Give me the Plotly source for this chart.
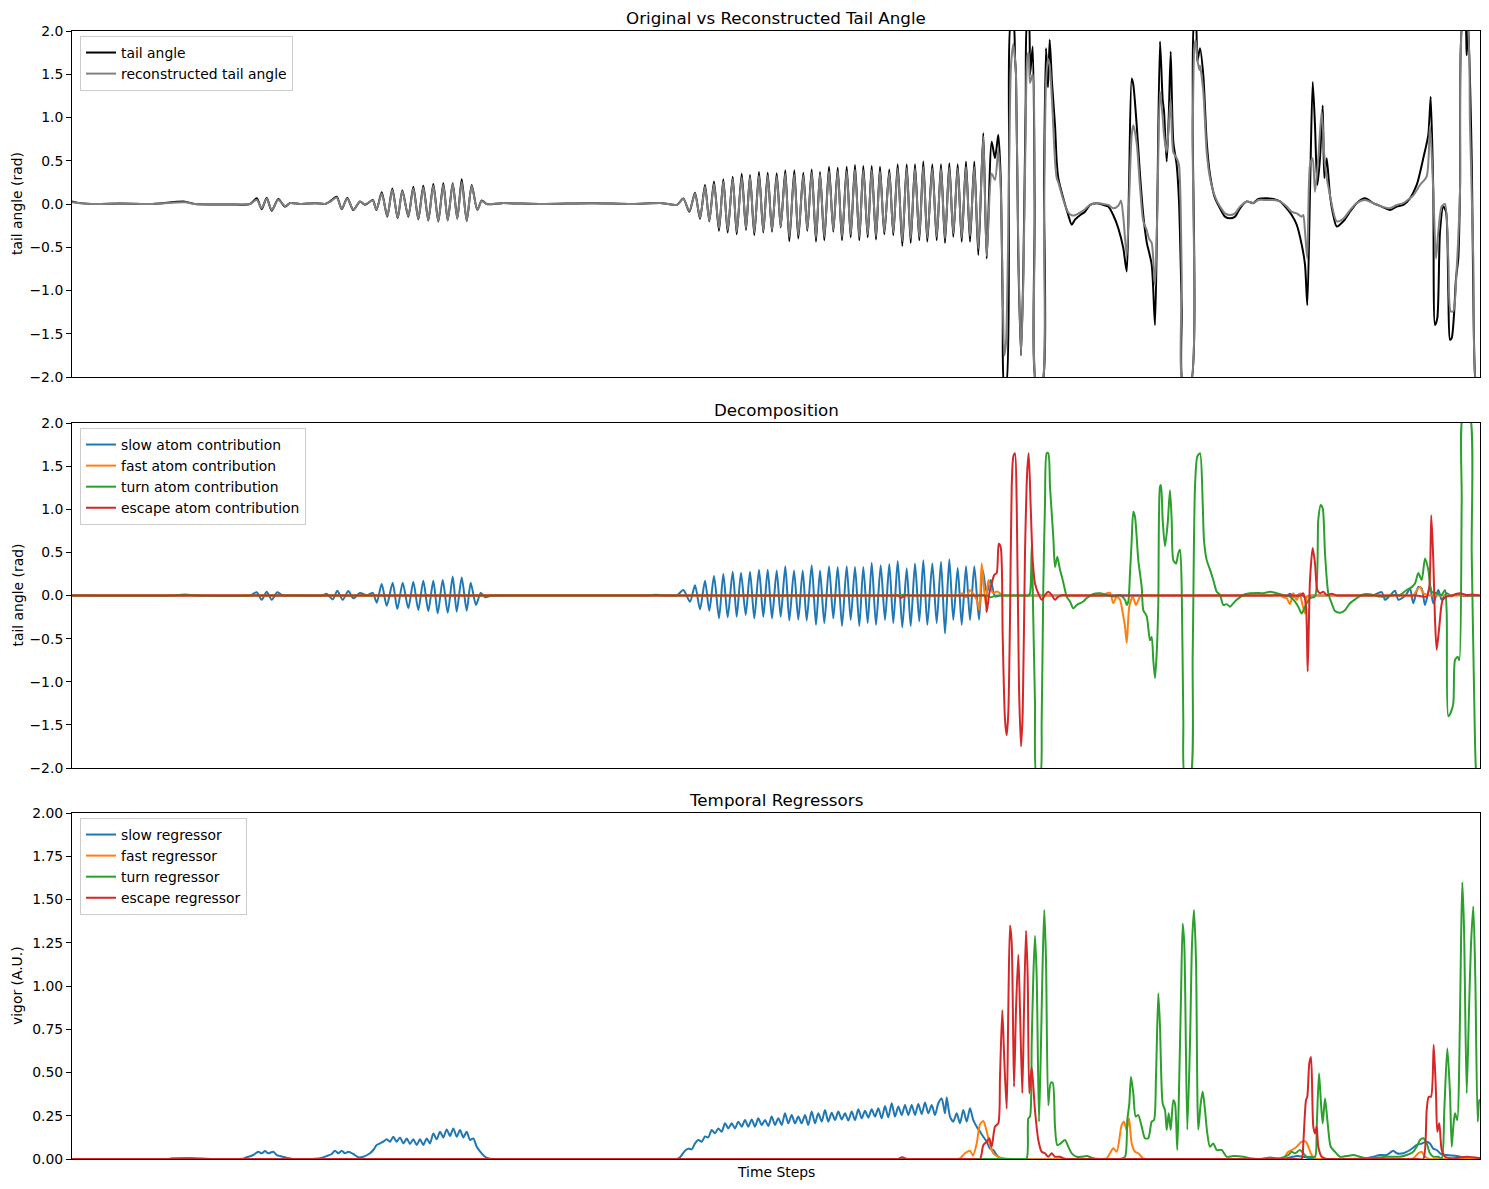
import plotly.graph_objects as go

# ---------------- Panel 1: original vs reconstructed tail angle ----------------
tail_t = [0, 8, 23, 48, 78, 113, 123, 158, 178,
          184.7, 189.7, 194.7, 199.7, 206.3, 213, 218, 228, 243, 253,
          258, 264.7, 269.7, 275.3, 281.3, 288, 293, 300.7, 304.5,
          309.7, 315.3, 320.3, 325.7, 330.3, 336.3, 341.3, 346.3, 351.3, 356.3, 361.3, 366.3,
          371.3, 375.7, 380.7, 385.3, 389.7, 394.7, 399.7, 405.3, 409.7, 414.7,
          430, 470, 520, 560, 590, 605,
          611.3, 617.3, 623, 628, 633, 637.3, 642, 647, 651.3, 655.7, 660.7, 664.7, 669.7, 674,
          678, 682.3, 687, 691.3, 695.7, 700, 704.7, 708.7, 713.3, 717.3, 722.3, 726.3, 731.3,
          735.3, 739.7, 744, 748, 752.3, 757, 761.3, 765.7, 770, 774.7, 778.7, 783, 787.3,
          791.3, 795.7, 799.7, 804, 808, 812.3, 817.3, 821.3, 825.7, 830.3, 834.7, 838.7, 843,
          847.3, 851.3, 855.3, 860.3, 864.7, 869, 873, 877.3, 881.3, 885.7, 889.7, 894, 898,
          902.3, 906.3,
          911.3, 914.7, 919.7, 923, 926.3, 928.7, 930.7, 932.3, 934, 937, 939, 941.3, 943, 944,
          946.3, 949, 951.3, 953.7, 955.3, 956.7, 958, 960.7, 962.7, 964.7, 969.7, 972, 974,
          976, 977.7, 980, 983, 984.7, 986.3, 991.3, 996.3, 999.7, 1003, 1008, 1013, 1018,
          1024.7, 1031.3, 1036.3, 1041.3, 1046.3, 1051.3, 1054.7, 1057, 1059.7, 1061.3, 1064.7,
          1068, 1071.3, 1074.7, 1079.7, 1083, 1085.3, 1088, 1090.7, 1092, 1094.7, 1096.7,
          1098.7, 1101.3, 1104.7, 1107, 1109.7, 1111.3, 1118, 1120.7, 1122.3, 1123.7, 1125.3,
          1128, 1131.3, 1134.7, 1138, 1143, 1148, 1153, 1158, 1163, 1168, 1174.7, 1181.3,
          1186.3, 1194.7, 1201.3, 1208, 1214.7, 1219.7, 1224.7, 1229.7, 1233, 1235.3, 1238,
          1240.7, 1243, 1245.3, 1248, 1250.7, 1252.3, 1254.7, 1258, 1261.3, 1264.7, 1271.3,
          1278, 1284.7, 1293, 1301.3, 1309.7, 1318, 1324.7, 1331.3, 1338, 1344.7, 1351.3,
          1356.3, 1358.7, 1361.3, 1363, 1365.3, 1368, 1371.3, 1374, 1376.3, 1378, 1379.7, 1382,
          1384, 1386.3, 1388, 1390.7, 1393, 1394.7, 1396.3, 1399.7, 1403, 1404.7, 1408]
tail_v = [0.03, 0.01, 0.0, 0.005, 0.0, 0.027, 0.0, -0.005, 0.0,
          0.066, -0.06, 0.073, -0.077, 0.058, -0.03, 0.01, 0.0, 0.01, 0.0,
          0.03, 0.085, -0.06, 0.073, -0.07, 0.03, -0.01, 0.046, -0.07,
          0.135, -0.146, 0.18, -0.166, 0.16, -0.146, 0.20, -0.177, 0.21, -0.19, 0.23, -0.204,
          0.24, -0.19, 0.24, -0.17, 0.285, -0.197, 0.22, -0.07, 0.04, 0.0,
          0.01, 0.0, 0.01, 0.0, 0.01, -0.01,
          0.065, -0.09, 0.13, -0.17, 0.22, -0.2, 0.26, -0.31, 0.285, -0.33, 0.316, -0.35, 0.35, -0.30,
          0.335, -0.36, 0.37, -0.33, 0.36, -0.32, 0.355, -0.27, 0.39, -0.43, 0.39, -0.40, 0.36,
          -0.31, 0.40, -0.435, 0.37, -0.42, 0.43, -0.32, 0.42, -0.42, 0.43, -0.385, 0.45, -0.42,
          0.44, -0.385, 0.44, -0.41, 0.43, -0.35, 0.40, -0.36, 0.46, -0.485, 0.46, -0.45, 0.46,
          -0.42, 0.49, -0.435, 0.46, -0.42, 0.46, -0.45, 0.47, -0.38, 0.46, -0.435, 0.49, -0.435,
          0.49, -0.59,
          0.82, -0.63, 0.72, 0.53, 0.80, 0.3, -1.2, -2.1, -2.1, 0.5, 2.1, 2.1, 1.68, 1.5,
          -0.6, -1.75, -0.8, 1.2, 2.1, 2.1, 1.49, 1.82, 0.0, -2.1, -2.1, 0.3, 1.8,
          1.35, 1.9, 1.4, 0.91, 0.49, 0.30, 0.066, -0.13, -0.24, -0.18, -0.13, -0.09, -0.01,
          0.01, -0.01, -0.03, -0.13, -0.28, -0.51, -0.78, 0.2, 1.45, 1.38, 0.91,
          0.34, -0.13, -0.44, -0.7, -1.40, 0.0, 1.88, 1.2, 1.07, 0.49, 0.99,
          1.76, 0.72, 0.45, 0.03, -1.2, -2.1, -2.1, 1.0, 2.1, 2.1, 1.65,
          1.8, 1.49, 0.72, 0.34, 0.066, -0.05, -0.146, -0.166, -0.146, -0.05, 0.03, 0.01,
          0.058, 0.066, 0.058, 0.03, -0.05, -0.127, -0.24, -0.47, -0.7, -1.17, 0.14,
          1.41, 0.91, 0.22, 0.53, 1.14, 0.30, 0.53, 0.10, -0.13, -0.26, -0.2,
          -0.09, 0.01, 0.066, 0.01, -0.03, -0.07, -0.03, -0.01, 0.066, 0.22, 0.53,
          0.80, 1.24, 0.14, -1.40, -1.32, -0.32, -0.03, -0.09, -1.01, -1.57, -1.55, -1.28,
          -0.86, -0.63, 0.14, 2.1, 2.1, 1.72, 2.1, 0.53, -1.98, -2.1, -2.1]

recon_t = [0, 8, 23, 48, 78, 113, 123, 158, 178,
           184.7, 189.7, 194.7, 199.7, 206.3, 213, 218, 228, 243, 253,
           258, 264.7, 269.7, 275.3, 281.3, 288, 293, 300.7, 304.5,
           309.7, 315.3, 320.3, 325.7, 330.3, 336.3, 341.3, 346.3, 351.3, 356.3, 361.3, 366.3,
           371.3, 375.7, 380.7, 385.3, 389.7, 394.7, 399.7, 405.3, 409.7, 414.7,
           430, 470, 520, 560, 590, 605,
           611.3, 617.3, 623, 628, 633, 637.3, 642, 647, 651.3, 655.7, 660.7, 664.7, 669.7, 674,
           678, 682.3, 687, 691.3, 695.7, 700, 704.7, 708.7, 713.3, 717.3, 722.3, 726.3, 731.3,
           735.3, 739.7, 744, 748, 752.3, 757, 761.3, 765.7, 770, 774.7, 778.7, 783, 787.3,
           791.3, 795.7, 799.7, 804, 808, 812.3, 817.3, 821.3, 825.7, 830.3, 834.7, 838.7, 843,
           847.3, 851.3, 855.3, 860.3, 864.7, 869, 873, 877.3, 881.3, 885.7, 889.7, 894, 898,
           902.3, 906.3,
           911.3, 914.7, 919.7, 923, 926.3, 928.7, 930.7, 932.3, 934, 937, 939, 941.3, 943, 944,
           946.3, 949, 951.3, 953.7, 955.3, 956.7, 958, 960.7, 962.7, 964.7, 969.7, 972, 974,
           976, 977.7, 980, 983, 984.7, 986.3, 991.3, 996.3, 999.7, 1003, 1008, 1013, 1018,
           1024.7, 1031.3, 1036.3, 1041.3, 1046.3, 1049, 1051.3, 1054.7, 1057, 1059.7, 1061.3,
           1064.7, 1068, 1071.3, 1074.7, 1077, 1079.7, 1083, 1085.3, 1088, 1090.7, 1092, 1094.7,
           1096.7, 1098.7, 1101.3, 1104.7, 1107, 1109.7, 1111.3, 1118, 1120.7, 1122.3, 1123.7,
           1125.3, 1127.3,
           1128, 1131.3, 1134.7, 1138, 1143, 1148, 1153, 1158, 1163, 1168, 1174.7, 1181.3,
           1186.3, 1194.7, 1201.3, 1208, 1214.7, 1219.7, 1224.7, 1229.7, 1231.3, 1233, 1235.3,
           1238, 1240.7, 1243, 1246.3, 1249.7, 1253, 1258, 1264.7, 1271.3, 1278, 1284.7, 1293,
           1301.3, 1309.7, 1318, 1324.7, 1331.3, 1338, 1341.3, 1348, 1354.7, 1358, 1361.3,
           1364, 1366.3, 1369.7, 1373, 1376.3, 1378.7, 1381.3, 1384.7, 1388, 1391.3, 1394.7,
           1398, 1401.3, 1404.7, 1408]
recon_v = [0.02, 0.01, 0.0, 0.005, 0.0, 0.02, 0.0, -0.005, 0.0,
           0.05, -0.05, 0.065, -0.07, 0.05, -0.025, 0.01, 0.0, 0.01, 0.0,
           0.025, 0.075, -0.055, 0.065, -0.065, 0.025, -0.005, 0.04, -0.065,
           0.12, -0.14, 0.165, -0.16, 0.15, -0.14, 0.18, -0.17, 0.19, -0.185, 0.21, -0.2,
           0.22, -0.19, 0.23, -0.17, 0.25, -0.19, 0.21, -0.07, 0.035, 0.0,
           0.01, 0.0, 0.01, 0.0, 0.01, -0.01,
           0.06, -0.08, 0.12, -0.16, 0.2, -0.19, 0.23, -0.28, 0.26, -0.30, 0.29, -0.32, 0.31, -0.28,
           0.31, -0.33, 0.33, -0.31, 0.33, -0.30, 0.32, -0.26, 0.35, -0.38, 0.34, -0.36, 0.33,
           -0.29, 0.36, -0.39, 0.34, -0.38, 0.38, -0.30, 0.38, -0.38, 0.38, -0.35, 0.40, -0.38,
           0.39, -0.35, 0.39, -0.37, 0.38, -0.32, 0.36, -0.33, 0.41, -0.43, 0.41, -0.40, 0.41,
           -0.38, 0.43, -0.39, 0.41, -0.38, 0.41, -0.40, 0.42, -0.34, 0.41, -0.39, 0.43, -0.37,
           0.43, -0.52,
           0.78, -0.6, 0.35, 0.28, 0.62, 0.2, -1.0, -1.75, -1.6, 0.3, 1.6, 1.85, 1.68, 1.5,
           -0.5, -1.75, -0.9, 0.9, 1.7, 1.75, 1.4, 1.5, -0.2, -2.1, -2.1, -0.2, 1.4,
           1.68, 1.6, 1.2, 0.5, 0.3, 0.25, 0.05, -0.1, -0.13, -0.13, -0.1, -0.06, -0.01,
           0.01, 0.0, -0.01, -0.05, -0.02, 0.04, -0.15, -0.6, 0.0, 0.8, 0.91,
           0.7, 0.2, -0.2, -0.3, -0.4, -0.45, -0.94, -0.1, 1.30, 1.0, 0.8, 0.6,
           0.9, 1.21, 0.6, 0.53, 0.45, -0.8, -2.1, -2.1, 0.8, 1.8, 1.9,
           1.68, 1.55,
           1.6, 1.3, 0.6, 0.3, 0.085, -0.03, -0.108, -0.127, -0.108, -0.03, 0.03, 0.01,
           0.046, 0.046, 0.046, 0.03, -0.03, -0.09, -0.108, -0.146, -0.127, -0.32, -0.63,
           0.45, 0.53, 0.14, 0.53, 1.07, 0.45, 0.1, -0.2, -0.17, -0.07, 0.01, 0.046,
           0.01, -0.03, -0.05, -0.01, 0.01, 0.066, 0.1, 0.22, 0.32, 0.91, 0.14,
           -0.63, -0.32, -0.03, 0.0, -0.63, -1.24, -1.24, -0.74, 0.14, 2.1, 2.1,
           0.91, -0.63, -2.1, -2.1]

# ---------------- Panel 2: decomposition ----------------
slow_c_t = [0, 100, 172, 178, 184.7, 189.7, 194.7, 199.7, 205.3, 210.7, 215, 250,
            254.7, 260.7, 265.3, 270.7, 276.3, 281.3, 288, 294.7, 300.7, 304.7,
            309.7, 314.7, 320.7, 325.3, 330.7, 336.3, 341.3, 346.3, 351.3, 356.3, 361.3, 365.7,
            370.7, 375.7, 380.7, 384.7, 389.7, 394.7, 398.7, 404, 408.7, 413, 420, 430, 520, 598, 605,
            611.3, 618, 623, 628, 633, 637.3, 642, 647, 651.3, 655.7, 660.7, 664.7, 669, 673.7,
            678, 682.3, 687, 691.3, 695.7, 700, 704.7, 708.7, 713.3, 717.3, 722, 726.3, 730.7,
            734.7, 739.7, 744, 748, 752.3, 757, 761.3, 765.7, 770, 774.7, 778.7, 783, 787.3,
            791.3, 795.7, 799.7, 804, 808.7, 813, 817.3, 821.3, 825.7, 830.3, 834.7, 838.7, 843,
            847.3, 851.3, 855.3, 860.3, 864.7, 869, 873, 877.3, 881.3, 885.7, 889.7, 894, 898,
            902.3, 907, 910.7, 914.7, 918.7, 923, 928, 940, 1100, 1195, 1200,
            1208, 1213, 1218, 1223, 1228, 1233, 1238, 1245, 1295, 1301, 1309.7, 1313, 1318, 1323, 1326.3,
            1331.3, 1334.7, 1338, 1341.3, 1346.3, 1349.7, 1353, 1358, 1361.3, 1366.3, 1369.7,
            1374.7, 1379.7, 1384.7, 1391.3, 1408]
slow_c_v = [0.0, 0.0, 0.0, 0.0, 0.037, -0.05, 0.044, -0.05, 0.037, 0.0, 0.0, 0.0,
            0.02, -0.045, 0.056, -0.05, 0.052, -0.033, 0.03, 0.0, 0.03, -0.083,
            0.133, -0.12, 0.149, -0.157, 0.149, -0.149, 0.16, -0.168, 0.172, -0.18, 0.172, -0.207,
            0.18, -0.2, 0.22, -0.187, 0.21, -0.176, 0.149, -0.11, 0.03, -0.02, 0.0, 0.0, 0.0, 0.0, 0.0,
            0.064, -0.072, 0.12, -0.16, 0.17, -0.176, 0.226, -0.265, 0.25, -0.253, 0.276, -0.246, 0.265, -0.226,
            0.276, -0.265, 0.30, -0.246, 0.30, -0.265, 0.29, -0.246, 0.34, -0.29, 0.29, -0.28, 0.29,
            -0.29, 0.35, -0.34, 0.29, -0.32, 0.34, -0.265, 0.33, -0.354, 0.34, -0.284, 0.33, -0.354,
            0.33, -0.32, 0.38, -0.34, 0.35, -0.284, 0.365, -0.32, 0.40, -0.37, 0.315, -0.354, 0.37,
            -0.30, 0.41, -0.34, 0.37, -0.32, 0.39, -0.44, 0.42, -0.284, 0.32, -0.34, 0.34, -0.284,
            0.34, -0.28, 0.30, 0.03, 0.18, -0.01, 0.0, 0.0, 0.0, 0.0, 0.0,
            0.01, -0.02, 0.02, -0.02, 0.02, -0.02, 0.0, 0.0, 0.0, 0.0, 0.04, -0.05, 0.0, 0.056, -0.05,
            -0.02, 0.02, 0.083, -0.09, 0.1, 0.08, -0.11, 0.11, -0.09, 0.064, -0.05,
            0.025, -0.01, 0.02, -0.005, 0.0]

fast_c_t = [0, 400, 800, 880, 885, 891.3, 894, 898, 904.7, 907.3, 909.7, 913.7, 916.3, 918.7, 921.3, 924.7,
            928, 931.3, 940, 1025, 1030, 1034.7, 1038, 1041.3, 1044.7, 1048, 1050.7, 1053, 1054.7, 1057.3,
            1060.7, 1064, 1068, 1071.3, 1075, 1082, 1200, 1205, 1208, 1211.3, 1214.7, 1218, 1221.3, 1224.7,
            1228, 1229.7, 1233, 1234.7, 1238, 1245, 1250, 1335, 1341.3, 1344.7, 1348, 1351.3, 1354.7,
            1358, 1365, 1408]
fast_c_v = [0.0, 0.0, 0.0, 0.0, 0.0, 0.025, -0.02, 0.06, -0.05, -0.17, 0.37, -0.11, 0.18, 0.08, 0.025, 0.045,
            0.025, 0.0, 0.0, 0.0, 0.0, 0.025, 0.03, -0.09, -0.015, -0.05, -0.2, -0.36, -0.55, -0.13,
            -0.013, -0.11, -0.013, 0.005, 0.0, 0.0, 0.0, 0.0, 0.0, -0.02, -0.03, -0.1, 0.025, -0.05,
            0.025, -0.07, -0.21, -0.013, 0.0, 0.0, 0.0, 0.0, 0.0, 0.06, 0.1, 0.025, 0.01,
            0.0, 0.0, 0.0]

turn_c_t = [0, 100, 113, 125, 165, 180, 190, 400, 570, 575, 583, 591, 600, 700, 820, 828, 832, 836,
            845, 900, 910, 915, 918, 924.7, 935, 950, 956.3,
            958, 959.7, 961.3, 963, 964.7, 968, 969.7, 971.3, 973, 974.7, 976.3, 978, 981.3,
            983, 985.3, 988, 990.7, 993, 994.7, 998, 1001.3, 1004.7, 1008, 1011.3, 1014.7, 1018,
            1021.3, 1028, 1034.7, 1041.3, 1048, 1053, 1054.7, 1056.3, 1058, 1059.7, 1061.3,
            1063, 1066.3, 1069.7, 1071.3, 1074.7, 1078, 1079.7, 1081.3, 1083, 1084.7, 1086.3,
            1088, 1089, 1090.7, 1093, 1095.7, 1098, 1099.7, 1101.3, 1104, 1106.3, 1108, 1109.7,
            1111.3, 1113, 1118, 1120.7, 1123, 1125.3, 1128, 1130.7, 1132, 1134.7, 1138, 1141.3,
            1144.7, 1148, 1151.3, 1154.7, 1158, 1161.3, 1164.7, 1171.3, 1178, 1184.7, 1191.3,
            1198, 1204.7, 1211.3, 1218, 1223, 1226.3, 1229.7, 1233, 1238, 1243, 1246.3, 1248.7,
            1250.7, 1253, 1256.3, 1259.7, 1263, 1268, 1273, 1278, 1284.7, 1289.7, 1294.7,
            1301.3, 1308, 1314.7, 1321.3, 1328, 1334.7, 1338, 1343, 1346.3, 1349.7, 1353,
            1356.3, 1359.7, 1364.7, 1369.7, 1373, 1374.7, 1376.3, 1378.7, 1381.3, 1383, 1385.7,
            1387.3, 1389.7, 1391.3, 1397.3, 1399.7, 1402, 1404, 1405.3, 1408]
turn_c_v = [0.0, 0.0, 0.012, 0.0, -0.005, 0.0, 0.0, 0.0, 0.0, 0.0, 0.01, 0.0, 0.0, 0.0, 0.0, 0.0, 0.01, 0.0,
            0.0, 0.0, 0.0, 0.0, -0.02, 0.0, 0.0, 0.0, 0.0,
            0.025, 0.57, -0.28, -1.25, -2.1, -2.1, -1.44, 0.10, 1.07, 1.65, 1.65, 1.26, 0.68,
            0.33, 0.45, 0.3, 0.18, 0.064, -0.013, -0.07, -0.15, -0.11, -0.09, -0.07, -0.03, -0.006,
            0.017, 0.025, 0.006, -0.013, 0.006, -0.052, -0.11, -0.07, 0.26, 0.64, 0.97,
            0.91, 0.41, 0.10, -0.17, -0.24, -0.52, -0.48, -0.75, -0.96, -0.67, -0.09,
            1.26, 1.28, 0.87, 0.57, 0.84, 1.22, 0.87, 0.41, 0.37, 0.49, 0.53, 0.1,
            -1.44, -2.1, -2.1, -0.67, 1.26, 1.61, 1.65, 1.07, 0.64, 0.41, 0.3, 0.18,
            0.044, 0.006, -0.11, -0.1, -0.13, -0.09, -0.05, 0.006, 0.025, 0.03, 0.025,
            0.044, 0.025, 0.006, -0.013, -0.07, -0.13, -0.21, -0.13, -0.03, -0.01, 0.88, 1.05,
            1.01, 0.49, 0.025, -0.09, -0.18, -0.2, -0.17, -0.09, -0.03, 0.006, 0.017,
            0.006, -0.013, -0.013, 0.006, 0.006, 0.064, 0.083, 0.14, 0.26, 0.18, 0.43,
            0.3, 0.044, 0.025, 0.006, 0.064, -0.2, -1.40, -1.36, -1.25, -0.75, -0.71,
            -0.75, 1.07, 2.1, 2.1, 0.49, -1.06, -2.02, -2.1, -2.1]

esc_c_t = [0, 400, 820, 826, 829, 833, 840, 900, 908, 913, 914.7, 917.3, 919.7, 922.3, 924.7, 926.7,
           928.7, 930.7, 933,
           934.7, 936.3, 938, 939.7, 941.3, 943, 944.7, 947, 949, 950.7, 953, 955.3, 956.7,
           958.7, 960.7, 963, 966.3, 969.7, 973, 976.3, 979.7, 983, 986.3, 991.3, 994.7,
           1000, 1100, 1222, 1228,
           1231.3, 1234, 1235.7, 1238, 1240.7, 1243, 1245.3, 1248, 1251.3, 1254.7, 1259.7,
           1264.7, 1270, 1340, 1344.7, 1354.7, 1357.3, 1359.3, 1361.3, 1363, 1364.7, 1367.3, 1370.7,
           1374.7, 1381.3, 1388, 1394.7, 1401.3, 1408]
esc_c_v = [0.0, 0.0, 0.0, 0.0, -0.025, 0.0, 0.0, 0.0, 0.0, 0.0, -0.19, 0.025, 0.14, 0.24, 0.26, 0.60,
           0.56, -0.48, -1.44,
           -1.62, -1.36, -0.28, 1.26, 1.61, 1.65, 1.07, -1.06, -1.75, -1.36, 0.49, 1.46, 1.65,
           1.03, 0.41, 0.14, 0.025, -0.05, 0.006, 0.044, 0.006, -0.05, -0.013, 0.006, 0.0,
           0.0, 0.0, 0.0, 0.0,
           0.025, -0.13, -0.88, 0.18, 0.55, 0.37, 0.064, 0.025, 0.044, 0.006, 0.02,
           0.0, 0.0, 0.0, 0.0, -0.013, 0.1, 0.93, 0.41, -0.28, -0.63, -0.36, -0.05,
           -0.013, 0.006, 0.025, 0.006, 0.01, 0.0]

# ---------------- Panel 3: temporal regressors ----------------
slow_r_t = [0, 80, 165, 169.7, 174.7, 181.3, 186.3, 189.7, 193, 196.3, 201.3, 204.7, 208, 214.7, 221.3,
            240, 248, 254.7, 259.7, 263, 266.3, 269.7, 273, 276.3, 281.3, 286.3, 291.3, 298, 301.3,
            304.7, 308, 311.3, 314.7, 318, 321.3, 324.7, 328, 331.3, 334.7, 338, 341.3, 344.7,
            348, 351.3, 354.7, 358, 361.3, 364.7, 368, 371.3, 374.7, 378, 381.3, 384.7, 388,
            391.3, 394.7, 398, 401.3, 404.7, 408, 413, 418, 421.3, 430, 520, 598, 604.7,
            608, 613, 616.3, 619.7, 623, 626.3, 629.7, 633, 636.3, 639.7, 643, 646.3, 649.7, 653,
            656.3, 659.7, 663, 666.3, 669.7, 673, 676.3, 679.7, 683, 686.3, 689.7, 693, 696.3,
            699.7, 703, 706.3, 709.7, 713, 716.3, 719.7, 723, 726.3, 729.7, 733, 736.3, 739.7,
            743, 746.3, 749.7, 753, 756.3, 759.7, 763, 766.3, 769.7, 773, 776.3, 779.7, 783,
            786.3, 789.7, 793, 796.3, 799.7, 803, 806.3, 809.7, 813, 816.3, 819.7, 823, 826.3,
            829.7, 833, 836.3, 839.7, 843, 846.3, 849.7, 853, 856.3, 859.7, 863, 866.3, 869.7,
            873, 874.7, 878, 881.3, 884.7, 888, 891.3, 894.7, 898, 901.3, 904.7, 908, 911.3,
            914.7, 918, 921.3, 924.7, 928, 935, 1100, 1205, 1210, 1214.7, 1224.7, 1231.3, 1238,
            1244.7, 1250, 1295, 1301.3,
            1308, 1314.7, 1321.3, 1324.7, 1331.3, 1338, 1344.7, 1349.7, 1354.7, 1358, 1361.3,
            1364.7, 1368, 1374.7, 1384.7, 1394.7, 1408]
slow_r_v = [0.0, 0.0, 0.0, 0.0, 0.01, 0.023, 0.042, 0.033, 0.046, 0.033, 0.042, 0.023, 0.017, 0.008, 0.0,
            0.0, 0.004, 0.017, 0.029, 0.048, 0.033, 0.048, 0.033, 0.042, 0.029, 0.01, 0.013, 0.033, 0.052,
            0.081, 0.09, 0.1, 0.114, 0.10, 0.129, 0.10, 0.125, 0.09, 0.119, 0.087, 0.114, 0.081,
            0.114, 0.081, 0.119, 0.09, 0.148, 0.114, 0.158, 0.125, 0.171, 0.133, 0.177, 0.129, 0.168,
            0.125, 0.158, 0.110, 0.119, 0.071, 0.044, 0.013, 0.002, 0.0, 0.0, 0.0, 0.0, 0.0,
            0.01, 0.048, 0.06, 0.056, 0.09, 0.11, 0.1, 0.13, 0.125, 0.168, 0.148, 0.177, 0.158, 0.206,
            0.177, 0.206, 0.177, 0.216, 0.187, 0.225, 0.187, 0.229, 0.187, 0.235, 0.197, 0.225, 0.191,
            0.245, 0.197, 0.235, 0.197, 0.264, 0.206, 0.254, 0.206, 0.245, 0.206, 0.254, 0.197, 0.274,
            0.206, 0.264, 0.216, 0.283, 0.216, 0.268, 0.225, 0.274, 0.229, 0.264, 0.222, 0.274, 0.225,
            0.287, 0.235, 0.279, 0.239, 0.287, 0.245, 0.293, 0.235, 0.306, 0.241, 0.322, 0.245, 0.303,
            0.254, 0.312, 0.254, 0.312, 0.254, 0.318, 0.260, 0.326, 0.264, 0.312, 0.254, 0.322, 0.35,
            0.264, 0.356, 0.245, 0.216, 0.264, 0.206, 0.283, 0.216, 0.293, 0.225, 0.187, 0.158, 0.129,
            0.100, 0.06, 0.052, 0.023, 0.004, 0.0, 0.0, 0.0, 0.0, 0.004, 0.017, 0.013, 0.004,
            0.0, 0.0, 0.005, 0.013,
            0.023, 0.023, 0.048, 0.033, 0.033, 0.052, 0.081, 0.090, 0.100, 0.09, 0.06,
            0.052, 0.033, 0.023, 0.017, 0.004, 0.004]

fast_r_t = [0, 400, 880, 885, 888, 893, 898, 901, 904.7, 908, 911.3, 914.7, 918, 921.3, 926.3, 931.3, 940,
            1025, 1031, 1034.7, 1038, 1041.3, 1044.7, 1049.7, 1052, 1054.7, 1057, 1059.7, 1063, 1066.3,
            1071.3, 1080, 1090, 1200, 1208, 1211.3, 1216.3, 1219.7, 1224.7, 1229.7, 1234, 1236.3, 1239.7,
            1243, 1250, 1255, 1333, 1338, 1341.3, 1346.3, 1349.7, 1353, 1358, 1365, 1408]
fast_r_v = [0.0, 0.0, 0.0, 0.0, 0.004, 0.033, 0.048, 0.02, 0.09, 0.2, 0.22, 0.16, 0.08, 0.033, 0.012, 0.004, 0.0,
            0.0, 0.0, 0.004, 0.033, 0.062, 0.042, 0.197, 0.216, 0.168, 0.235, 0.09, 0.042, 0.033,
            0.004, 0.0, 0.0, 0.0, 0.0, 0.004, 0.042, 0.052, 0.071, 0.10, 0.10, 0.071, 0.023,
            0.004, 0.0, 0.0, 0.0, 0.0, 0.004, 0.033, 0.042, 0.013, 0.0, 0.0, 0.0]

turn_r_t = [0, 95, 100, 120, 140, 150, 500, 945, 950, 954.7, 956.3, 958, 959.7, 961.3, 963, 964.7, 967, 969,
            970.7, 972.3, 974, 976.3, 978.7, 980.7, 983, 985.3, 988.7, 993, 996.3, 999.7, 1004.7,
            1009.7, 1014.7, 1021.3, 1028, 1048, 1053, 1055.3, 1057.3, 1059, 1061.3, 1063.7, 1066.3,
            1069.7, 1073, 1076.3, 1079.7, 1082, 1084, 1086.3, 1088, 1090.7, 1093, 1094.7, 1096.7,
            1098.7, 1101.3, 1103, 1105.3, 1107.3, 1109, 1110.7, 1112.3, 1115.3, 1118, 1120, 1122,
            1124, 1126.3, 1128.7, 1130.7, 1133, 1135.3, 1138, 1141.3, 1144.7, 1149.7, 1154.7,
            1161.3, 1171.3, 1178, 1188, 1198, 1208, 1216.3, 1219.7, 1223, 1228, 1231.3, 1234.7,
            1238, 1243, 1244.7, 1247, 1249, 1250.7, 1253, 1255.7, 1258.7, 1263, 1268, 1274.7,
            1281.3, 1288, 1294.7, 1314.7, 1328, 1334.7, 1341.3, 1344.7, 1348, 1351.3, 1354.7, 1358,
            1361.3, 1366.3, 1369.7, 1372.3, 1375.3, 1378, 1379.7, 1381.3, 1383, 1385.3, 1387.3,
            1389, 1390.3, 1392, 1394.7, 1397, 1399, 1401.3, 1403.3, 1405.7, 1407.3, 1408]
turn_r_v = [0.0, 0.0, 0.004, 0.006, 0.0, 0.0, 0.0, 0.0, 0.0, 0.004, 0.235, 0.245, 0.67, 1.05, 1.29, 1.05, 0.216, 0.67,
            1.15, 1.44, 1.15, 0.31, 0.44, 0.44, 0.187, 0.08, 0.09, 0.11, 0.071, 0.033, 0.013,
            0.013, 0.017, 0.004, 0.0, 0.0, 0.013, 0.225, 0.32, 0.476, 0.379, 0.245, 0.254,
            0.187, 0.12, 0.12, 0.216, 0.225, 0.476, 0.957, 0.764, 0.32, 0.283, 0.168, 0.264,
            0.168, 0.34, 0.32, 0.052, 0.476, 0.94, 1.36, 1.24, 0.17, 0.67, 1.24, 1.44,
            1.15, 0.17, 0.32, 0.39, 0.283, 0.148, 0.071, 0.09, 0.052, 0.052, 0.013,
            0.017, 0.013, 0.004, 0.0, 0.008, 0.004, 0.023, 0.042, 0.033, 0.052, 0.033, 0.013,
            0.013, 0.013, 0.187, 0.495, 0.32, 0.206, 0.35, 0.206, 0.071, 0.042, 0.013, 0.017,
            0.023, 0.013, 0.004, 0.013, 0.013, 0.023, 0.042, 0.071, 0.11, 0.12, 0.09, 0.033,
            0.013, 0.013, 0.004, 0.283, 0.64, 0.38, 0.071, 0.187, 0.264, 0.225, 0.57,
            1.24, 1.60, 1.34, 0.38, 0.86, 1.24, 1.46, 1.05, 0.216, 0.34, 0.34]

esc_r_t = [0, 400, 820, 826, 830, 835, 840, 900, 908, 911.3, 914.7, 917.3, 919.7, 923, 926.3, 928, 930.3, 932.3,
           934.7, 936.3, 938, 939.7, 942, 944, 946.3, 948, 950.3, 952, 954, 955.7, 957.3, 959.7,
           963, 966.3, 969.7, 973, 976.3, 979.7, 983, 988, 991.3, 994.7, 1000, 1100, 1224, 1229.7,
           1231.3, 1234, 1235.3, 1237.3, 1239, 1241.3, 1243, 1244.7, 1246.3, 1249.7, 1254.7, 1260, 1346,
           1351.3, 1354.7, 1356.7, 1359, 1361.7, 1364, 1365.3, 1367.3, 1369.7, 1373, 1381.3, 1394.7, 1408]
esc_r_v = [0.0, 0.0, 0.0, 0.0, 0.01, 0.0, 0.0, 0.0, 0.0, 0.08, 0.1, 0.12, 0.071, 0.187, 0.206, 0.476, 0.86, 0.57,
           0.29, 0.86, 1.35, 1.25, 0.418, 0.86, 1.18, 0.86, 0.38, 0.86, 1.32, 1.05, 0.38, 0.53,
           0.28, 0.11, 0.042, 0.033, 0.013, 0.033, 0.013, 0.013, 0.004, 0.0, 0.0, 0.0, 0.0, 0.0,
           0.09, 0.34, 0.36, 0.553, 0.59, 0.187, 0.148, 0.187, 0.071, 0.013, 0.0, 0.0, 0.0,
           0.0, 0.283, 0.36, 0.36, 0.66, 0.38, 0.158, 0.206, 0.052, 0.013, 0.004, 0.013, 0.004]

BLUE, ORANGE, GREEN, RED = "#1f77b4", "#ff7f0e", "#2ca02c", "#d62728"
FONT = "DejaVu Sans"

fig = go.Figure()


def add(t, v, name, color, ax, leg):
    assert len(t) == len(v), (name, len(t), len(v))
    fig.add_trace(go.Scatter(
        x=t, y=v, mode="lines", name=name,
        line=dict(color=color, width=2, shape="spline", smoothing=0.7),
        xaxis="x" + ax, yaxis="y" + ax, legend=leg))


add(tail_t, tail_v, "tail angle", "#000000", "", "legend")
add(recon_t, recon_v, "reconstructed tail angle", "#808080", "", "legend")
add(slow_c_t, slow_c_v, "slow atom contribution", BLUE, "2", "legend2")
add(fast_c_t, fast_c_v, "fast atom contribution", ORANGE, "2", "legend2")
add(turn_c_t, turn_c_v, "turn atom contribution", GREEN, "2", "legend2")
add(esc_c_t, esc_c_v, "escape atom contribution", RED, "2", "legend2")
add(slow_r_t, slow_r_v, "slow regressor", BLUE, "3", "legend3")
add(fast_r_t, fast_r_v, "fast regressor", ORANGE, "3", "legend3")
add(turn_r_t, turn_r_v, "turn regressor", GREEN, "3", "legend3")
add(esc_r_t, esc_r_v, "escape regressor", RED, "3", "legend3")

# page has an 8px body margin around the plot div; compensate so the
# plot area sits at the same page coordinates as the reference.
OFF = 8
W, H = 1489 - 2 * OFF, 1189 - 2 * OFF
ML, MR, MT, MB = 72 - OFF, 1, 31 - OFF, 22
PW = W - ML - MR           # 1408
PH = H - MT - MB           # 1128
PBOT = OFF + H - MB        # page y of plot bottom (1159)


def py2paper(py):
    return (PBOT - py) / PH


def px2paper(px):
    return (px - 72) / PW


d1 = [py2paper(377), 1.0]
d2 = [py2paper(768), py2paper(423)]
d3 = [0.0, py2paper(813)]

xcommon = dict(range=[0, 1408], showticklabels=False, ticks="", showgrid=False,
               zeroline=False, showline=True, linecolor="black", linewidth=1, mirror=True)
ycommon = dict(showgrid=False, zeroline=False, showline=True, linecolor="black",
               linewidth=1, mirror=True, ticks="outside", ticklen=5, tickwidth=1,
               tickcolor="black", tickfont=dict(family=FONT, size=13.9, color="black"))

legcommon = dict(bgcolor="rgba(255,255,255,0.8)", bordercolor="#cccccc", borderwidth=1,
                 font=dict(family=FONT, size=13.9, color="black"), xanchor="left",
                 yanchor="top", x=px2paper(80), tracegroupgap=0)

fig.update_layout(
    width=W, height=H, template="none",
    margin=dict(l=ML, r=MR, t=MT, b=MB, autoexpand=False),
    paper_bgcolor="white", plot_bgcolor="white",
    font=dict(family=FONT, size=13.9, color="black"),
    xaxis=dict(domain=[0, 1], anchor="y", **xcommon),
    xaxis2=dict(domain=[0, 1], anchor="y2", **xcommon),
    xaxis3=dict(domain=[0, 1], anchor="y3", **xcommon),
    yaxis=dict(domain=d1, anchor="x", range=[-2, 2], dtick=0.5, tick0=0, tickformat=".1f", **ycommon),
    yaxis2=dict(domain=d2, anchor="x2", range=[-2, 2], dtick=0.5, tick0=0, tickformat=".1f", **ycommon),
    yaxis3=dict(domain=d3, anchor="x3", range=[0, 2], dtick=0.25, tick0=0, tickformat=".2f", **ycommon),
    legend=dict(y=py2paper(36), **legcommon),
    legend2=dict(y=py2paper(428), **legcommon),
    legend3=dict(y=py2paper(818), **legcommon),
    showlegend=True,
)

titles = [("Original vs Reconstructed Tail Angle", d1[1]),
          ("Decomposition", d2[1]),
          ("Temporal Regressors", d3[1])]
for txt, ytop in titles:
    fig.add_annotation(text=txt, x=0.5, xref="paper", y=ytop, yref="paper",
                       xanchor="center", yanchor="bottom", yshift=1, showarrow=False,
                       font=dict(family=FONT, size=16.7, color="black"))

ylabels = [("tail angle (rad)", py2paper(204)),
           ("tail angle (rad)", py2paper(595.5)),
           ("vigor (A.U.)", py2paper(986))]
for txt, yc in ylabels:
    fig.add_annotation(text=txt, x=px2paper(17), xref="paper", y=yc, yref="paper",
                       xanchor="center", yanchor="middle", textangle=-90, showarrow=False,
                       font=dict(family=FONT, size=13.9, color="black"))

fig.add_annotation(text="Time Steps", x=0.5, xref="paper", y=py2paper(1172), yref="paper",
                   xanchor="center", yanchor="middle", showarrow=False,
                   font=dict(family=FONT, size=13.9, color="black"))

fig.write_html("out.html")
